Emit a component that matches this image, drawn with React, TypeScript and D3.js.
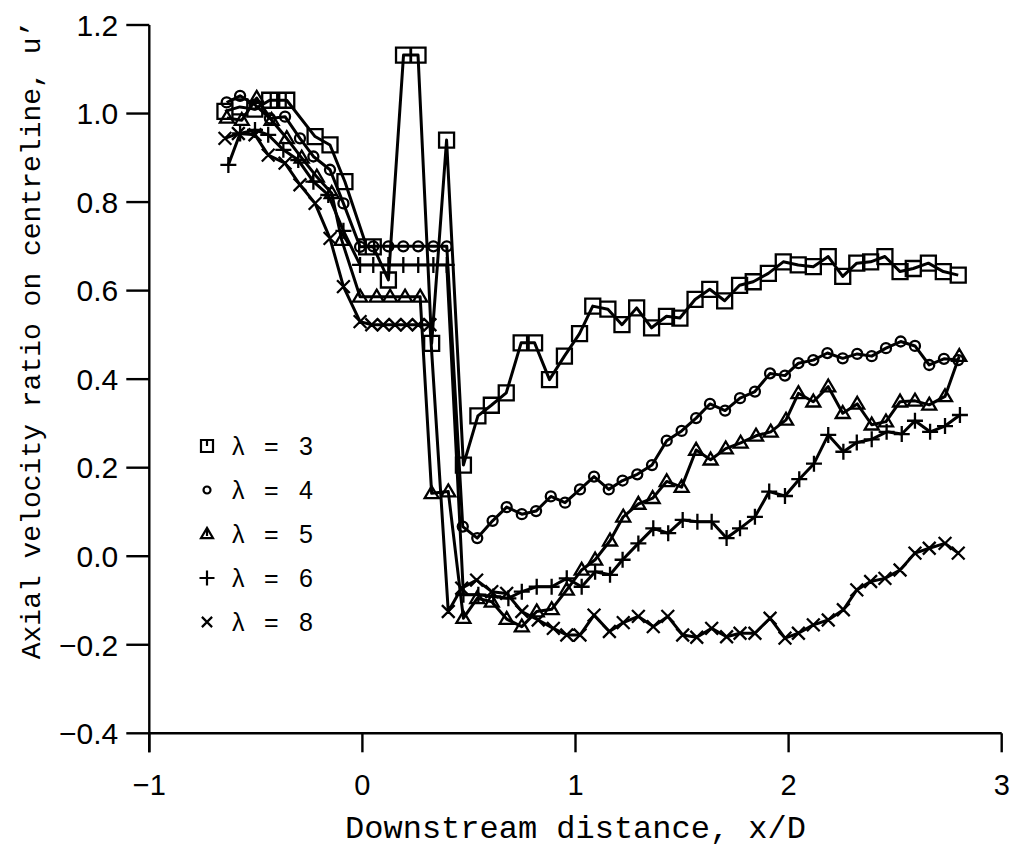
import React from "react";
import * as d3 from "d3";

// Axial velocity ratio on the centreline against downstream distance x/D,
// for five tip-speed ratios.
const lambda3X = [-0.645, -0.575, -0.505, -0.435, -0.395, -0.355, -0.222, -0.152, -0.082, 0.02, 0.051, 0.122, 0.193, 0.261, 0.325, 0.395, 0.474, 0.542, 0.605, 0.675, 0.745, 0.808, 0.878, 0.948, 1.019, 1.081, 1.152, 1.218, 1.287, 1.357, 1.427, 1.49, 1.561, 1.63, 1.7, 1.77, 1.834, 1.905, 1.975, 2.045, 2.116, 2.186, 2.254, 2.32, 2.385, 2.452, 2.523, 2.585, 2.656, 2.726, 2.796];
const lambda3Y = [1.005, 1.015, 1.01, 1.03, 1.03, 1.03, 0.948, 0.929, 0.846, 0.699, 0.699, 0.624, 1.132, 1.132, 0.481, 0.94, 0.206, 0.317, 0.341, 0.369, 0.482, 0.482, 0.399, 0.452, 0.503, 0.565, 0.558, 0.523, 0.561, 0.516, 0.542, 0.538, 0.58, 0.603, 0.577, 0.612, 0.62, 0.639, 0.665, 0.658, 0.654, 0.677, 0.632, 0.662, 0.665, 0.677, 0.643, 0.65, 0.662, 0.643, 0.635];

const lambda4X = [-0.637, -0.574, -0.505, -0.434, -0.363, -0.293, -0.23, -0.152, -0.089, -0.011, 0.051, 0.122, 0.192, 0.262, 0.333, 0.396, 0.471, 0.539, 0.611, 0.677, 0.748, 0.815, 0.884, 0.951, 1.021, 1.087, 1.156, 1.221, 1.29, 1.359, 1.428, 1.498, 1.566, 1.631, 1.702, 1.772, 1.842, 1.913, 1.983, 2.046, 2.116, 2.182, 2.254, 2.322, 2.39, 2.457, 2.526, 2.593, 2.66, 2.729, 2.796];
const lambda4Y = [1.025, 1.04, 1.02, 0.989, 0.993, 0.944, 0.903, 0.873, 0.797, 0.699, 0.7, 0.7, 0.7, 0.7, 0.7, 0.7, 0.067, 0.041, 0.08, 0.111, 0.095, 0.102, 0.135, 0.121, 0.151, 0.18, 0.151, 0.171, 0.185, 0.206, 0.261, 0.283, 0.312, 0.344, 0.329, 0.357, 0.372, 0.413, 0.408, 0.436, 0.443, 0.459, 0.447, 0.457, 0.452, 0.47, 0.485, 0.475, 0.432, 0.446, 0.443];

const lambda5X = [-0.636, -0.566, -0.496, -0.426, -0.355, -0.285, -0.214, -0.144, -0.097, -0.011, 0.067, 0.13, 0.2, 0.271, 0.325, 0.403, 0.474, 0.539, 0.607, 0.677, 0.748, 0.818, 0.888, 0.959, 1.029, 1.092, 1.162, 1.224, 1.295, 1.362, 1.428, 1.498, 1.566, 1.634, 1.705, 1.775, 1.847, 1.916, 1.988, 2.046, 2.116, 2.186, 2.254, 2.322, 2.39, 2.457, 2.523, 2.593, 2.66, 2.734, 2.801];
const lambda5Y = [0.99, 0.985, 1.035, 0.985, 0.944, 0.9, 0.857, 0.82, 0.714, 0.586, 0.586, 0.586, 0.586, 0.586, 0.142, 0.146, -0.14, -0.095, -0.103, -0.142, -0.159, -0.125, -0.12, -0.076, -0.031, -0.008, 0.035, 0.089, 0.118, 0.131, 0.169, 0.156, 0.24, 0.218, 0.243, 0.256, 0.272, 0.281, 0.308, 0.368, 0.349, 0.383, 0.323, 0.344, 0.297, 0.304, 0.349, 0.351, 0.342, 0.361, 0.452];

const lambda6X = [-0.629, -0.574, -0.504, -0.442, -0.371, -0.301, -0.23, -0.16, -0.089, -0.011, 0.051, 0.122, 0.192, 0.262, 0.333, 0.396, 0.474, 0.544, 0.614, 0.685, 0.748, 0.818, 0.888, 0.959, 1.029, 1.092, 1.162, 1.221, 1.295, 1.365, 1.435, 1.503, 1.572, 1.639, 1.709, 1.772, 1.842, 1.909, 1.983, 2.05, 2.119, 2.186, 2.257, 2.32, 2.39, 2.46, 2.531, 2.593, 2.664, 2.734, 2.804];
const lambda6Y = [0.884, 0.955, 0.963, 0.952, 0.918, 0.895, 0.846, 0.816, 0.735, 0.658, 0.658, 0.658, 0.658, 0.658, 0.658, 0.658, -0.087, -0.087, -0.091, -0.095, -0.08, -0.069, -0.069, -0.05, -0.069, -0.035, -0.042, -0.008, 0.029, 0.063, 0.052, 0.082, 0.078, 0.078, 0.041, 0.063, 0.089, 0.146, 0.136, 0.174, 0.209, 0.274, 0.236, 0.257, 0.264, 0.281, 0.276, 0.306, 0.281, 0.294, 0.319];

const lambda8X = [-0.645, -0.582, -0.504, -0.442, -0.363, -0.293, -0.222, -0.152, -0.089, -0.011, 0.044, 0.098, 0.153, 0.208, 0.262, 0.317, 0.403, 0.466, 0.536, 0.607, 0.677, 0.748, 0.825, 0.896, 0.959, 1.021, 1.087, 1.159, 1.224, 1.295, 1.365, 1.433, 1.503, 1.569, 1.639, 1.709, 1.772, 1.842, 1.913, 1.983, 2.046, 2.116, 2.186, 2.257, 2.32, 2.385, 2.452, 2.523, 2.593, 2.66, 2.734, 2.796];
const lambda8Y = [0.944, 0.955, 0.952, 0.906, 0.888, 0.839, 0.797, 0.718, 0.609, 0.53, 0.523, 0.523, 0.523, 0.523, 0.523, 0.523, -0.125, -0.072, -0.054, -0.08, -0.084, -0.125, -0.144, -0.163, -0.178, -0.178, -0.133, -0.17, -0.15, -0.136, -0.159, -0.136, -0.178, -0.183, -0.163, -0.182, -0.174, -0.174, -0.14, -0.185, -0.174, -0.155, -0.144, -0.121, -0.076, -0.057, -0.05, -0.031, 0.007, 0.018, 0.029, 0.007];

const legendLabels = ["3", "4", "5", "6", "8"];
const xTicks = [-1, 0, 1, 2, 3];
const yTicks = [-0.4, -0.2, 0, 0.2, 0.4, 0.6, 0.8, 1.0, 1.2];

type Sym = "square" | "circle" | "triangle" | "plus" | "cross";

const series: { xs: number[]; ys: number[]; sym: Sym }[] = [
  { xs: lambda3X, ys: lambda3Y, sym: "square" },
  { xs: lambda4X, ys: lambda4Y, sym: "circle" },
  { xs: lambda5X, ys: lambda5Y, sym: "triangle" },
  { xs: lambda6X, ys: lambda6Y, sym: "plus" },
  { xs: lambda8X, ys: lambda8Y, sym: "cross" },
];

const W = 1015;
const H = 849;
const x = d3.scaleLinear().domain([-1, 3]).range([149.3, 1001.7]);
const y = d3.scaleLinear().domain([-0.4, 1.2]).range([733.3, 25]);

const tickFont = "'Liberation Sans', Arial, sans-serif";
const titleFont = "'Liberation Mono', 'Courier New', monospace";

function symbolPath(sym: Sym, cx: number, cy: number, s: number, stem = false): string {
  const h = s / 2;
  switch (sym) {
    case "square": {
      let p = `M${cx - h},${cy - h}H${cx + h}V${cy + h}H${cx - h}Z`;
      if (stem) p += `M${cx},${cy - h}V${cy}`;
      return p;
    }
    case "circle": {
      const r = h;
      return `M${cx - r},${cy}A${r},${r} 0 1,0 ${cx + r},${cy}A${r},${r} 0 1,0 ${cx - r},${cy}Z`;
    }
    case "triangle": {
      const th = s * 0.85;
      let p = `M${cx},${cy - th * 0.6}L${cx + h},${cy + th * 0.4}H${cx - h}Z`;
      if (stem) p += `M${cx},${cy - th * 0.6}V${cy + th * 0.2}`;
      return p;
    }
    case "plus":
      return `M${cx - h},${cy}H${cx + h}M${cx},${cy - h}V${cy + h}`;
    case "cross": {
      const c = h * 0.85;
      return `M${cx - c},${cy - c}L${cx + c},${cy + c}M${cx - c},${cy + c}L${cx + c},${cy - c}`;
    }
  }
}

const markSize: Record<Sym, number> = {
  square: 15,
  circle: 10,
  triangle: 14,
  plus: 16,
  cross: 15,
};

const legendSize: Record<Sym, number> = { square: 12, circle: 7, triangle: 12, plus: 15, cross: 12 };

export default function App() {
  const line = d3
    .line<[number, number]>()
    .x((d) => x(d[0]))
    .y((d) => y(d[1]));

  return (
    <svg
      width={W}
      height={H}
      style={{ position: "absolute", left: 0, top: 0, background: "#fff" }}
      xmlns="http://www.w3.org/2000/svg"
    >
      <rect width={W} height={H} fill="#fff" />

      {/* axes */}
      <g stroke="#000" strokeWidth={2.4} fill="none">
        <line x1={x(-1)} x2={x(-1)} y1={y(1.2)} y2={y(-0.4) + 19} />
        <line x1={x(-1)} x2={x(3)} y1={y(-0.4)} y2={y(-0.4)} />
        {yTicks.map((t) => (
          <line key={"yt" + t} x1={x(-1) - 23} x2={x(-1)} y1={y(t)} y2={y(t)} />
        ))}
        {xTicks.map((t) => (
          <line key={"xt" + t} x1={x(t)} x2={x(t)} y1={y(-0.4)} y2={y(-0.4) + 19} />
        ))}
      </g>

      {yTicks.map((t) => (
        <text
          key={"yl" + t}
          x={x(-1) - 31}
          y={y(t)}
          dy="0.36em"
          textAnchor="end"
          fontFamily={tickFont}
          fontSize={30}
          fill="#000"
        >
          {t < 0 ? "\u2212" + Math.abs(t).toFixed(1) : t.toFixed(1)}
        </text>
      ))}
      {xTicks.map((t) => (
        <text
          key={"xl" + t}
          x={x(t)}
          y={y(-0.4) + 62}
          textAnchor="middle"
          fontFamily={tickFont}
          fontSize={29}
          fill="#000"
        >
          {t < 0 ? "\u2212" + Math.abs(t) : String(t)}
        </text>
      ))}

      {/* axis titles */}
      <text
        x={(x(-1) + x(3)) / 2}
        y={838}
        textAnchor="middle"
        fontFamily={titleFont}
        fontSize={32}
        fill="#000"
      >
        Downstream distance, x/D
      </text>
      <text
        transform={`translate(40, 340) rotate(-90)`}
        textAnchor="middle"
        fontFamily={titleFont}
        fontSize={28}
        fill="#000"
      >
        Axial velocity ratio on centreline, u’
      </text>

      {/* series */}
      {series.map((s, i) => {
        const pts: [number, number][] = s.xs.map((v, k) => [v, s.ys[k]]);
        return (
          <g key={"s" + i}>
            <path d={line(pts) || ""} fill="none" stroke="#000" strokeWidth={3} strokeLinejoin="round" />
            <path
              d={pts.map((p) => symbolPath(s.sym, x(p[0]), y(p[1]), markSize[s.sym])).join("")}
              fill="none"
              stroke="#000"
              strokeWidth={2.3}
            />
          </g>
        );
      })}

      {/* legend */}
      {series.map((s, i) => {
        const cy = 446 + i * 44;
        return (
          <g key={"lg" + i}>
            <path d={symbolPath(s.sym, 207, cy, legendSize[s.sym], true)} fill="none" stroke="#000" strokeWidth={2.2} />
            <text x={232} y={cy} dy="0.36em" fontFamily={tickFont} fontSize={25} fill="#000">
              λ
            </text>
            <text x={264} y={cy} dy="0.36em" fontFamily={tickFont} fontSize={25} fill="#000">
              =
            </text>
            <text x={299} y={cy} dy="0.36em" fontFamily={tickFont} fontSize={25} fill="#000">
              {legendLabels[i]}
            </text>
          </g>
        );
      })}
    </svg>
  );
}
